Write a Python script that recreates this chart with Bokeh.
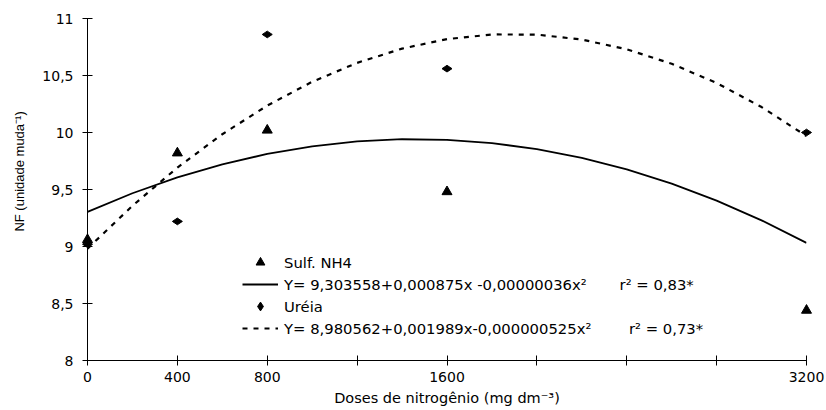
from bokeh.plotting import figure
from bokeh.models import FixedTicker, Legend, LegendItem, Range1d
from bokeh.embed import file_html
from bokeh.resources import INLINE

# --- data ---
doses = [0, 400, 800, 1600, 3200]
sulf_nh4 = [9.06, 9.82, 10.02, 9.48, 8.44]
ureia = [9.02, 9.22, 10.86, 10.56, 10.00]

# fitted trend curves as drawn (sampled every 200 mg dm-3)
curve_x = [0, 200, 400, 600, 800, 1000, 1200, 1400, 1600, 1800, 2000,
           2200, 2400, 2600, 2800, 3000, 3200]
curve_sulf = [9.304, 9.467, 9.606, 9.721, 9.812, 9.879, 9.922, 9.941, 9.936,
              9.907, 9.854, 9.777, 9.676, 9.551, 9.402, 9.229, 9.032]
curve_ureia = [8.981, 9.357, 9.692, 9.985, 10.236, 10.445, 10.611, 10.736,
               10.819, 10.860, 10.859, 10.815, 10.730, 10.603, 10.434,
               10.223, 9.969]

x_ticks = [0, 400, 800, 1200, 1600, 2000, 2400, 2800, 3200]
x_tick_labels = ["0", "400", "800", "", "1600", "", "", "", "3200"]
y_ticks = [8, 8.5, 9, 9.5, 10, 10.5, 11]
y_tick_labels = ["8", "8,5", "9", "9,5", "10", "10,5", "11"]

NB = "\u00a0"
label_sulf = "Sulf. NH4"
label_eq_sulf = "Y= 9,303558+0,000875x -0,00000036x²" + NB * 7 + "r² = 0,83*"
label_ureia = "Uréia"
label_eq_ureia = "Y= 8,980562+0,001989x-0,000000525x²" + NB * 8 + "r² = 0,73*"

FONT = "DejaVu Sans"
YFONT = "Liberation Sans"

p = figure(width=826, height=410, output_backend="svg", toolbar_location=None,
           x_range=Range1d(0, 3200), y_range=Range1d(8, 11),
           min_border_left=87, min_border_right=20, min_border_top=18,
           min_border_bottom=50)
p.outline_line_color = None
p.grid.visible = False
p.background_fill_color = "white"
p.border_fill_color = "white"

# axes
p.xaxis.ticker = FixedTicker(ticks=x_ticks)
p.xaxis.major_label_overrides = {t: l for t, l in zip(x_ticks, x_tick_labels)}
p.yaxis.ticker = FixedTicker(ticks=y_ticks)
p.yaxis.major_label_overrides = {t: l for t, l in zip(y_ticks, y_tick_labels)}
for ax in (p.xaxis, p.yaxis):
    ax.axis_line_color = "black"
    ax.axis_line_width = 1
    ax.major_tick_line_color = "black"
    ax.major_tick_in = 5
    ax.major_tick_out = 5
    ax.minor_tick_line_color = None
    ax.major_label_text_font = FONT
    ax.major_label_text_font_size = "14px"
    ax.major_label_text_color = "black"
    ax.axis_label_text_font_style = "normal"
    ax.axis_label_text_color = "black"
p.xaxis.axis_label = "Doses de nitrogênio (mg dm⁻³)"
p.xaxis.axis_label_text_font = FONT
p.xaxis.axis_label_text_font_size = "14.5px"
p.xaxis.major_label_standoff = 6
p.xaxis.axis_label_standoff = 5
p.yaxis.axis_label = NB * 10 + "NF (unidade muda⁻¹)"
p.yaxis.axis_label_text_font = YFONT
p.yaxis.axis_label_text_font_size = "13px"
p.yaxis.major_label_standoff = 9
p.yaxis.axis_label_standoff = 12

# trend curves
r_line_s = p.line(curve_x, curve_sulf, line_color="black", line_width=1.8)
r_line_u = p.line(curve_x, curve_ureia, line_color="black", line_width=2.2,
                  line_dash="5 6")

# points (overlay level so markers on the frame edges are not clipped)
r_tri = p.scatter(doses, sulf_nh4, marker="triangle", size=10,
                  fill_color="black", line_color="black", level="overlay")
r_dia = p.scatter(doses, ureia, marker="diamond", size=10, angle=1.5708,
                  fill_color="black", line_color="black", level="overlay")

legend = Legend(items=[
    LegendItem(label=label_sulf, renderers=[r_tri]),
    LegendItem(label=label_eq_sulf, renderers=[r_line_s]),
    LegendItem(label=label_ureia, renderers=[r_dia]),
    LegendItem(label=label_eq_ureia, renderers=[r_line_u]),
], location=(155, 21))
legend.border_line_color = None
legend.background_fill_alpha = 0
legend.padding = 0
legend.margin = 0
legend.spacing = 0
legend.glyph_width = 36
legend.glyph_height = 22
legend.label_standoff = 6
legend.label_text_font = FONT
legend.label_text_font_size = "14.8px"
legend.label_text_color = "black"
legend.label_height = 22
p.add_layout(legend, "center")

open("out.html", "w").write(file_html(p, INLINE))
